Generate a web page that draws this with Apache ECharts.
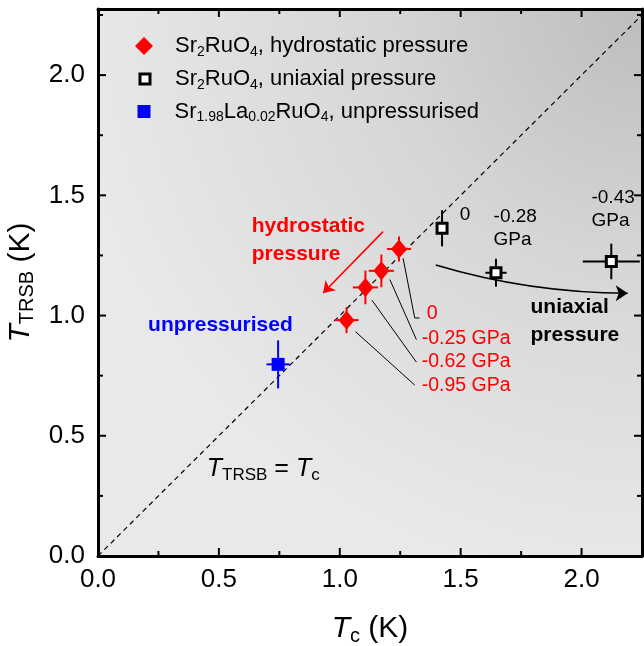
<!DOCTYPE html>
<html>
<head>
<meta charset="utf-8">
<script src="https://cdn.jsdelivr.net/npm/echarts@6/dist/echarts.min.js"></script>
<style>
html, body { margin: 0; padding: 0; background: #fff; }
#chart { width: 644px; height: 646px; }
</style>
</head>
<body>
<div id="chart"></div>
<script>
// Sr2RuO4 under hydrostatic pressure
const hydroTc = [1.245, 1.172, 1.106, 1.028];
const hydroTrsb = [1.277, 1.186, 1.117, 0.981];
const hydroTcErr = [0.05, 0.052, 0.052, 0.05];
const hydroTrsbErr = [0.052, 0.068, 0.07, 0.054];
const hydroLabels = ['0', '-0.25 GPa', '-0.62 GPa', '-0.95 GPa'];

// Sr2RuO4 under uniaxial pressure
const uniTc = [1.423, 1.646, 2.123];
const uniTrsb = [1.363, 1.178, 1.225];
const uniTcErr = [0.02, 0.044, 0.118];
const uniTrsbErr = [0.075, 0.058, 0.074];
const uniLabels = ['0', '-0.28\nGPa', '-0.43\nGPa'];

// Sr1.98La0.02RuO4, no pressure
const laTc = [0.745];
const laTrsb = [0.797];
const laTcErr = [0.048];
const laTrsbErr = [0.1];

// axes
const axisMin = 0;
const xMax = 2.25;
const yMax = 2.275;
const majorStep = 0.5;
const majorTicks = [0.5, 1.0, 1.5, 2.0];
const minorTicks = [0.25, 0.75, 1.25, 1.75, 2.25];

const FONT = 'Liberation Sans, Arial, Helvetica, sans-serif';
const names = {
  hydro: 'Sr2RuO4, hydrostatic pressure',
  uni: 'Sr2RuO4, uniaxial pressure',
  la: 'Sr1.98La0.02RuO4, unpressurised'
};
const legendText = {};
legendText[names.hydro] = '{g1|}{a|Sr}{s|2}{a|RuO}{s|4}{a|, hydrostatic pressure}';
legendText[names.uni] = '{g2|}{a|Sr}{s|2}{a|RuO}{s|4}{a|, uniaxial pressure}';
legendText[names.la] = '{g3|}{a|Sr}{s|1.98}{a|La}{s|0.02}{a|RuO}{s|4}{a|, unpressurised}';

// annotation anchors (data space)
const hydroLabelAt = [[1.36, 1.006], [1.339, 0.906], [1.339, 0.807], [1.339, 0.707]];
const uniLabelAt = [[1.496, 1.418], [1.636, 1.362], [2.041, 1.441]];
const leaders = [
  [[1.262, 1.238], [1.31, 0.99], [1.33, 0.99]],
  [[1.207, 1.15], [1.317, 0.9]],
  [[1.133, 1.064], [1.317, 0.806]],
  [[1.065, 0.933], [1.31, 0.711]]
];
const hydroArrow = [[1.179, 1.349], [0.931, 1.094]];
const uniArrow = [[1.397, 1.21], [2.191, 1.093]];
const notes = [
  { at: [0.45, 0.36], text: '{i|T}{ts|TRSB}{n| = }{i|T}{ts|c}' },
  { at: [0.636, 1.314], text: '{r|hydrostatic}\n{r|pressure}' },
  { at: [0.207, 0.96], text: '{b|unpressurised}' },
  { at: [1.789, 0.977], text: '{k|uniaxial}\n{k|pressure}' }
];

const zip = (xs, ys) => xs.map((x, i) => [x, ys[i]]);
const withErr = (xs, ys, ex, ey) => xs.map((x, i) => [x, ys[i], ex[i], ey[i]]);

function errorBars(name, color, data) {
  return {
    type: 'custom',
    name: name + ' err',
    data: data,
    encode: { x: 0, y: 1 },
    silent: true,
    z: 3,
    renderItem: function (params, api) {
      const x = api.value(0), y = api.value(1), dx = api.value(2), dy = api.value(3);
      const l = api.coord([x - dx, y]), r = api.coord([x + dx, y]);
      const b = api.coord([x, y - dy]), t = api.coord([x, y + dy]);
      return {
        type: 'group',
        children: [
          { type: 'line', shape: { x1: l[0], y1: l[1], x2: r[0], y2: r[1] }, style: { stroke: color, lineWidth: 2 } },
          { type: 'line', shape: { x1: b[0], y1: b[1], x2: t[0], y2: t[1] }, style: { stroke: color, lineWidth: 2 } }
        ]
      };
    }
  };
}

// inward ticks on all four sides of the frame, placed through the axis scales
// item = [0, value] for a tick on the x axes, [1, value] for the y axes
function frameTicks(name, values, len) {
  const data = values.map(v => [0, v]).concat(values.map(v => [1, v]));
  return {
    type: 'custom',
    name: name,
    data: data,
    silent: true,
    z: 8,
    renderItem: function (params, api) {
      const onX = api.value(0) === 0, v = api.value(1);
      const st = { stroke: '#000', lineWidth: 2 };
      if (onX) {
        const b = api.coord([v, axisMin]), t = api.coord([v, yMax]);
        return { type: 'group', children: [
          { type: 'line', shape: { x1: b[0], y1: b[1], x2: b[0], y2: b[1] - len }, style: st },
          { type: 'line', shape: { x1: t[0], y1: t[1], x2: t[0], y2: t[1] + len }, style: st }
        ] };
      }
      const l = api.coord([axisMin, v]), r = api.coord([xMax, v]);
      return { type: 'group', children: [
        { type: 'line', shape: { x1: l[0], y1: l[1], x2: l[0] + len, y2: l[1] }, style: st },
        { type: 'line', shape: { x1: r[0], y1: r[1], x2: r[0] - len, y2: r[1] }, style: st }
      ] };
    }
  };
}

const noteRich = {
  i: { fontFamily: FONT, fontStyle: 'italic', fontSize: 25, lineHeight: 29, color: '#000' },
  n: { fontFamily: FONT, fontSize: 25, lineHeight: 29, color: '#000' },
  ts: { fontFamily: FONT, fontSize: 17, lineHeight: 10, verticalAlign: 'bottom', color: '#000' },
  r: { fontFamily: FONT, fontWeight: 'bold', fontSize: 21, lineHeight: 28, color: '#ff0000' },
  b: { fontFamily: FONT, fontWeight: 'bold', fontSize: 21, lineHeight: 28, color: '#0000ff' },
  k: { fontFamily: FONT, fontWeight: 'bold', fontSize: 21, lineHeight: 28, color: '#000' },
  rn: { fontFamily: FONT, fontSize: 19.5, lineHeight: 24, color: '#ff0000' },
  kn: { fontFamily: FONT, fontSize: 19, lineHeight: 23, color: '#000' }
};

function labelSeries(name, anchors, texts) {
  return {
    type: 'scatter',
    name: name,
    symbolSize: 0,
    silent: true,
    z: 6,
    itemStyle: { color: 'transparent', opacity: 1 },
    data: anchors.map((p, i) => ({
      value: p,
      label: {
        show: true, position: 'right', distance: 0, align: 'left', opacity: 1,
        formatter: texts[i], rich: noteRich
      }
    }))
  };
}

const legendRich = {
  a: { fontFamily: FONT, fontSize: 22, lineHeight: 26, color: '#000' },
  s: { fontFamily: FONT, fontSize: 14, lineHeight: 14, verticalAlign: 'bottom', color: '#000' },
  g1: { width: 17 },
  g2: { width: 20 },
  g3: { width: 19 }
};
function legendAt(name, left, top, size, itemStyle) {
  return {
    data: [name], left: left, top: top, padding: 0,
    itemWidth: size, itemHeight: size, selectedMode: false,
    itemStyle: itemStyle,
    formatter: n => legendText[n],
    textStyle: { rich: legendRich }
  };
}

const titleRich = {
  i: { fontFamily: FONT, fontStyle: 'italic', fontSize: 30, lineHeight: 34, color: '#000' },
  n: { fontFamily: FONT, fontSize: 30, lineHeight: 34, color: '#000' },
  s: { fontFamily: FONT, fontSize: 20, lineHeight: 14, verticalAlign: 'bottom', color: '#000' }
};

function axisBase(max, pos, labelled) {
  return {
    type: 'value', position: pos, min: axisMin, max: max, interval: majorStep,
    axisLine: { show: true, onZero: false, lineStyle: { color: '#000', width: 3 } },
    axisTick: { show: false },
    axisLabel: {
      show: labelled, margin: pos === 'left' ? 13 : 11, showMaxLabel: false,
      fontFamily: FONT, fontSize: 26, color: '#000',
      formatter: v => v.toFixed(1)
    },
    splitLine: { show: false }
  };
}

const xAxes = [
  Object.assign(axisBase(xMax, 'bottom', true), {
    name: '{i|T}{s|c}{n| (K)}', nameLocation: 'middle', nameGap: 56,
    nameTextStyle: { rich: titleRich }
  }),
  axisBase(xMax, 'top', false)
];
const yAxes = [
  Object.assign(axisBase(yMax, 'left', true), {
    name: '{i|T}{s|TRSB}{n| (K)}', nameLocation: 'middle', nameGap: 59, nameRotate: 90,
    nameTextStyle: { rich: titleRich }
  }),
  axisBase(yMax, 'right', false)
];

const diag = [axisMin, yMax];
const plot = { left: 98, top: 9, width: 544, height: 547 };

const option = {
  animation: false,
  backgroundColor: '#fff',
  grid: Object.assign({ outerBoundsMode: 'none' }, plot),
  // shaded plot background, kept below axes and marks
  graphic: [{
    type: 'rect', left: plot.left, top: plot.top, z: -100, silent: true,
    shape: { width: plot.width, height: plot.height },
    style: {
      fill: new echarts.graphic.RadialGradient(1, 0, 1.05, [
        { offset: 0, color: '#bdbdbd' },
        { offset: 0.45, color: '#d6d6d6' },
        { offset: 1, color: '#e9e9e9' }
      ])
    }
  }],
  legend: [
    legendAt(names.hydro, 135, 35, 18, { color: '#ff0000', opacity: 1 }),
    legendAt(names.uni, 138.5, 68, 10, { color: '#ffffff', borderColor: '#000', borderWidth: 3, opacity: 1 }),
    legendAt(names.la, 137.5, 100.5, 13, { color: '#0000ff', opacity: 1 })
  ],
  xAxis: xAxes,
  yAxis: yAxes,
  series: [
    {
      type: 'line', name: 'diag', data: diag.map(v => [v, v]), symbol: 'none', silent: true, z: 1,
      lineStyle: { color: '#000', width: 1.2, type: [5, 4] }
    },
    frameTicks('major ticks', majorTicks, 8),
    frameTicks('minor ticks', minorTicks, 5),
    errorBars(names.hydro, '#ff0000', withErr(hydroTc, hydroTrsb, hydroTcErr, hydroTrsbErr)),
    errorBars(names.uni, '#000', withErr(uniTc, uniTrsb, uniTcErr, uniTrsbErr)),
    errorBars(names.la, '#0000ff', withErr(laTc, laTrsb, laTcErr, laTrsbErr)),
    {
      type: 'scatter', name: names.hydro, data: zip(hydroTc, hydroTrsb), z: 4,
      symbol: 'diamond', symbolSize: [16, 19], itemStyle: { color: '#ff0000', opacity: 1 }
    },
    {
      type: 'scatter', name: names.uni, data: zip(uniTc, uniTrsb), z: 4,
      symbol: 'rect', symbolSize: 10,
      itemStyle: { color: '#ffffff', borderColor: '#000', borderWidth: 3, opacity: 1 }
    },
    {
      type: 'scatter', name: names.la, data: zip(laTc, laTrsb), z: 4,
      symbol: 'rect', symbolSize: 13, itemStyle: { color: '#0000ff', opacity: 1 }
    },
    {
      type: 'lines', name: 'leaders', coordinateSystem: 'cartesian2d', polyline: true, silent: true, z: 3,
      lineStyle: { color: '#000', width: 1, opacity: 1 },
      data: leaders.map(c => ({ coords: c }))
    },
    {
      type: 'lines', name: 'hydro arrow', coordinateSystem: 'cartesian2d', silent: true, z: 3,
      symbol: ['none', 'arrow'], symbolSize: 11,
      lineStyle: { color: '#ff0000', width: 1.6, opacity: 1 },
      data: [{ coords: hydroArrow }]
    },
    {
      type: 'lines', name: 'uni arrow', coordinateSystem: 'cartesian2d', silent: true, z: 3,
      symbol: ['none', 'arrow'], symbolSize: 12,
      lineStyle: { color: '#000', width: 1.6, opacity: 1, curveness: -0.073 },
      data: [{ coords: uniArrow }]
    },
    labelSeries('hydro labels', hydroLabelAt, hydroLabels.map(t => '{rn|' + t + '}')),
    labelSeries('uni labels', uniLabelAt, uniLabels.map(t => t.split('\n').map(s => '{kn|' + s + '}').join('\n'))),
    labelSeries('notes', notes.map(n => n.at), notes.map(n => n.text))
  ]
};

const chart = echarts.init(document.getElementById('chart'));
chart.setOption(option);
</script>
</body>
</html>
